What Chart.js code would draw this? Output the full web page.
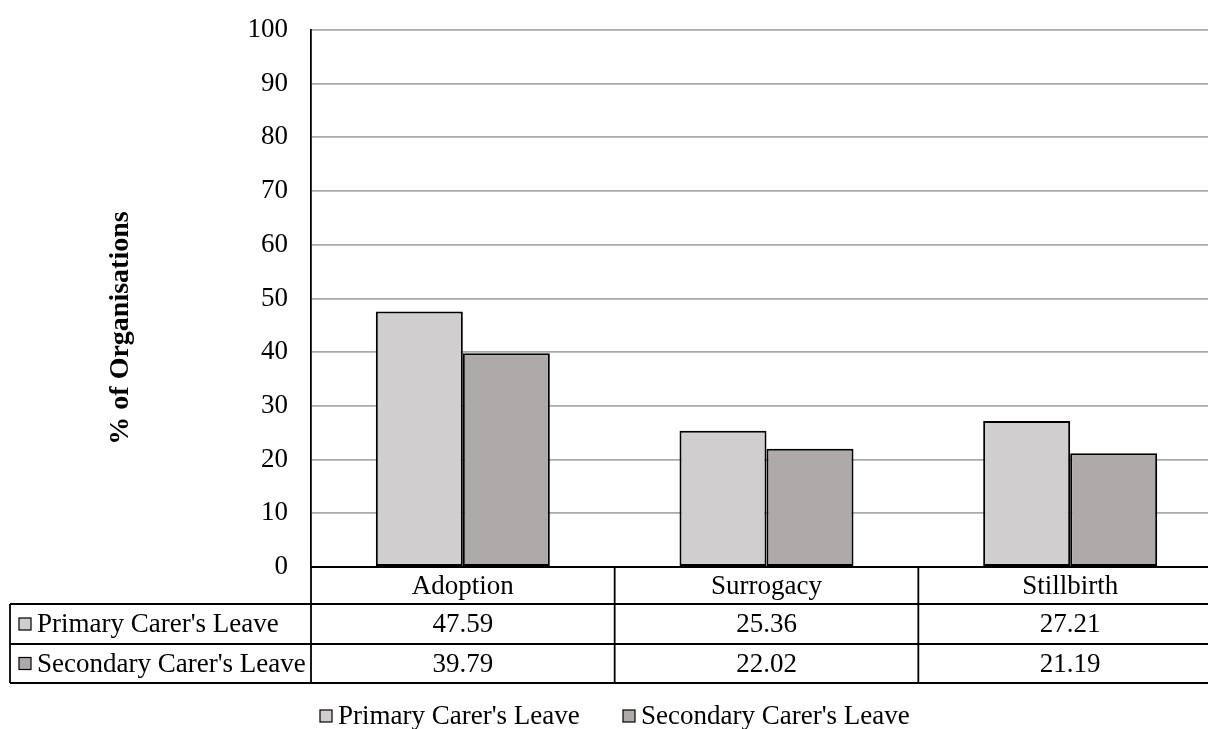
<!DOCTYPE html>
<html>
<head>
<meta charset="utf-8">
<script src="https://cdn.jsdelivr.net/npm/chart.js@4/dist/chart.umd.min.js"></script>
<style>
    html, body { margin: 0; padding: 0; background: #fff; }
    #wrap { width: 1208px; height: 729px; overflow: hidden; }
</style>
</head>
<body>
<div id="wrap"><canvas id="chart" width="1225" height="729"></canvas></div>
<script>
const categories = ["Adoption", "Surrogacy", "Stillbirth"];
const primaryLeave = [47.59, 25.36, 27.21];
const secondaryLeave = [39.79, 22.02, 21.19];
const seriesNames = ["Primary Carer's Leave", "Secondary Carer's Leave"];
const yTicks = [0, 10, 20, 30, 40, 50, 60, 70, 80, 90, 100];
const yTitle = "% of Organisations";

const FONT = "'Liberation Serif', 'Times New Roman', serif";
const colors = ["#d0cece", "#aeaaaa"];

// tabla de datos debajo del eje + leyenda + titulo del eje y
const tablePlugin = {
    id: "dataTable",
    afterDraw(chart) {
        const ctx = chart.ctx;
        const area = chart.chartArea;
        const xs = chart.scales.x;
        const catW = (area.right - area.left) / categories.length;
        const top = area.bottom;
        const rowH = [37, 40, 39];
        const y1 = top + rowH[0], y2 = y1 + rowH[1], y3 = y2 + rowH[2];
        const left = 10;

        ctx.save();
        ctx.strokeStyle = "#000";
        ctx.lineWidth = 1.8;
        ctx.beginPath();
        // lineas horizontales
        ctx.moveTo(area.left, top); ctx.lineTo(area.right, top);
        ctx.moveTo(left, y1); ctx.lineTo(area.right, y1);
        ctx.moveTo(left, y2); ctx.lineTo(area.right, y2);
        ctx.moveTo(left, y3); ctx.lineTo(area.right, y3);
        // lineas verticales
        ctx.moveTo(left, y1); ctx.lineTo(left, y3);
        for (let i = 0; i <= categories.length; i++) {
            const x = area.left + catW * i;
            ctx.moveTo(x, top); ctx.lineTo(x, y3);
        }
        ctx.stroke();

        ctx.fillStyle = "#000";
        ctx.font = "27px " + FONT;
        ctx.textAlign = "center";
        ctx.textBaseline = "middle";
        categories.forEach((c, i) => {
            const cx = xs.getPixelForValue(i);
            ctx.fillText(c, cx, (top + y1) / 2 + 1);
            chart.data.datasets.forEach((ds, j) => {
                const cy = j === 0 ? (y1 + y2) / 2 : (y2 + y3) / 2;
                ctx.fillText(ds.data[i].toFixed(2), cx, cy + 1);
            });
        });

        // etiquetas de fila con cuadrito
        ctx.textAlign = "left";
        chart.data.datasets.forEach((ds, j) => {
            const cy = j === 0 ? (y1 + y2) / 2 : (y2 + y3) / 2;
            ctx.fillStyle = ds.backgroundColor;
            ctx.fillRect(19, cy - 6, 12, 12);
            ctx.lineWidth = 1.2;
            ctx.strokeRect(19, cy - 6, 12, 12);
            ctx.fillStyle = "#000";
            ctx.fillText(ds.label, 37, cy + 1);
        });

        // leyenda inferior
        const legY = 716;
        const legX = [320, 623];
        chart.data.datasets.forEach((ds, j) => {
            ctx.fillStyle = ds.backgroundColor;
            ctx.fillRect(legX[j], legY - 6, 12, 12);
            ctx.strokeRect(legX[j], legY - 6, 12, 12);
            ctx.fillStyle = "#000";
            ctx.fillText(ds.label, legX[j] + 18, legY + 1);
        });

        // titulo del eje y
        ctx.translate(121, 328);
        ctx.rotate(-Math.PI / 2);
        ctx.textAlign = "center";
        ctx.font = "bold 28px " + FONT;
        ctx.fillText(yTitle, 0, 0);
        ctx.restore();
    }
};

new Chart(document.getElementById("chart"), {
    type: "bar",
    data: {
        labels: categories,
        datasets: [
            { label: seriesNames[0], data: primaryLeave, backgroundColor: colors[0] },
            { label: seriesNames[1], data: secondaryLeave, backgroundColor: colors[1] }
        ]
    },
    options: {
        responsive: false,
        animation: false,
        devicePixelRatio: 1,
        layout: { padding: { top: 30, right: 3, left: 0, bottom: 0 } },
        datasets: {
            bar: {
                borderColor: "#000",
                borderWidth: 2,
                borderSkipped: false,
                categoryPercentage: 0.573,
                barPercentage: 1
            }
        },
        plugins: {
            legend: { display: false },
            tooltip: { enabled: false }
        },
        scales: {
            x: {
                ticks: { display: false },
                grid: { display: false },
                border: { display: false },
                afterFit: scale => { scale.height = 162; }
            },
            y: {
                min: 0,
                max: 100,
                afterBuildTicks: scale => { scale.ticks = yTicks.map(v => ({ value: v })); },
                afterFit: scale => {
                    scale.width = 311;
                    scale.paddingTop = 0;
                    scale.paddingBottom = 0;
                },
                ticks: {
                    color: "#000",
                    padding: 23,
                    font: { family: FONT, size: 27 }
                },
                grid: { color: "#aaaaaa", lineWidth: 1.8, drawTicks: false },
                border: { color: "#000", width: 1.8 }
            }
        }
    },
    plugins: [tablePlugin]
});
</script>
</body>
</html>
